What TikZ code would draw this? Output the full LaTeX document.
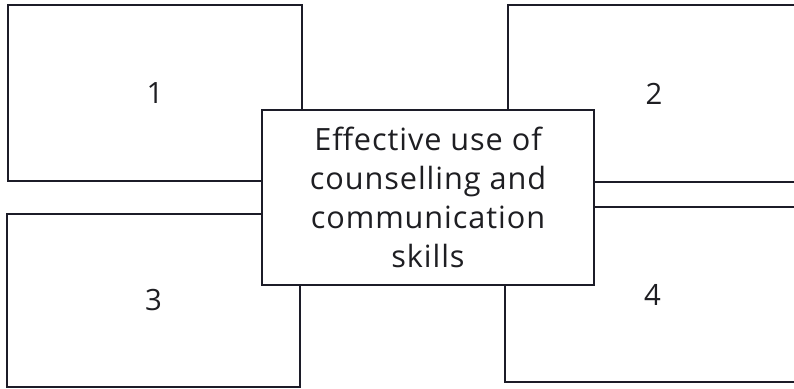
\documentclass[tikz,border=0pt]{standalone}
\usepackage{fontspec}
\setmainfont{Open Sans}
\definecolor{inkline}{RGB}{28,28,40}
\definecolor{inktext}{RGB}{30,30,34}

\begin{document}
\begin{tikzpicture}[x=0.75pt, y=-0.75pt, every node/.style={rectangle, draw=inkline, line width=2.2pt, inner sep=0pt, text=inktext, font=\fontsize{22}{29.25}\selectfont}]
			\useasboundingbox (0,0) rectangle (794,389);
			
			\node[minimum width=220.5pt, minimum height=132pt] (b1) at (155,93) {1};
			\node[minimum width=219pt, minimum height=132.75pt] (b2) at (654,93.5) {2};
			\node[minimum width=219.75pt, minimum height=129.75pt] (b3) at (153.5,300.5) {3};
			\node[minimum width=221.25pt, minimum height=131.25pt] (b4) at (652.5,294.5) {4};
			
			\node[fill=white, align=center, minimum width=249pt, minimum height=131.25pt, font=\fontsize{23}{29.25}\selectfont\addfontfeature{LetterSpace=3}] (skills) at (428,197.5) {Effective use of\\counselling and\\communication\\skills};
			\end{tikzpicture}
\end{document}
